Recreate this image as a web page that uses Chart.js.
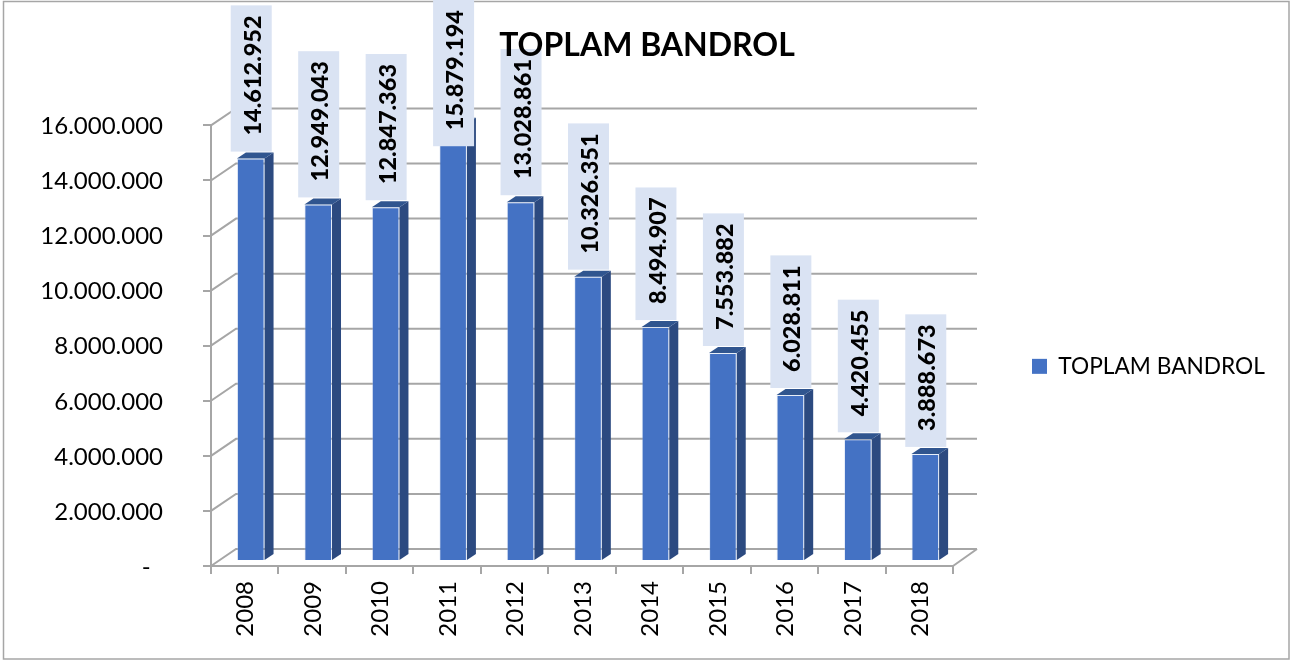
<!DOCTYPE html>
<html><head><meta charset="utf-8">
<style>html,body{margin:0;padding:0;background:#fff}canvas{display:block}</style>
<script src="https://cdn.jsdelivr.net/npm/chart.js@4"></script>
</head><body>
<canvas id="c" width="1302" height="661"></canvas>
<script>
const categories = ['2008','2009','2010','2011','2012','2013','2014','2015','2016','2017','2018'];
const seriesName = 'TOPLAM BANDROL';
const values = [14612952,12949043,12847363,15879194,13028861,10326351,8494907,7553882,6028811,4420455,3888673];
const FONT = 'Lato';
const fmt = v => v === 0 ? '-' : String(v).replace(/\B(?=(\d{3})+$)/g,'.');

const threeD = {
  id:'threeD',
  beforeLayout(chart){
    const t = chart.titleBlock;
    t._layers = () => [{z:5, draw:()=>t.draw()}];
  },
  afterLayout(chart){
    const t = chart.titleBlock; t.left = 147; t.right = 1147; t.top = 26; t.bottom = 68;
    const l = chart.legend; l.left = 1022; l.top = 345; l.right = 1300; l.bottom = 380;
  },
  beforeDraw(chart){
    const c = chart.ctx;
    c.save(); c.strokeStyle = '#a6a6a6'; c.lineWidth = 1.5;
    c.strokeRect(3.5,1.5,1285.5,657.5); c.restore();
  },
  beforeDatasetsDraw(chart){
    const c = chart.ctx, y = chart.scales.y, a = chart.chartArea;
    const dx = 25, dy = -17;
    c.save(); c.strokeStyle = '#a6a6a6'; c.lineWidth = 2; c.lineJoin='miter';
    y.ticks.forEach(t => {
      const p = y.getPixelForValue(t.value);
      c.beginPath(); c.moveTo(a.left,p); c.lineTo(a.left+dx,p+dy); c.lineTo(a.right+dx-1,p+dy); c.stroke();
    });
    const b = y.getPixelForValue(0);
    c.beginPath(); c.moveTo(a.right,b); c.lineTo(a.right+dx-1,b+dy); c.stroke();
    c.restore();
    c.save(); c.translate(6,-5);
    const dpx = 9, dpy = -6;
    chart.getDatasetMeta(0).data.forEach(el => {
      const r = el.x + el.width/2, l = el.x - el.width/2;
      c.fillStyle = '#2c4a80';
      c.beginPath(); c.moveTo(r,el.y); c.lineTo(r+dpx,el.y+dpy); c.lineTo(r+dpx,el.base+dpy); c.lineTo(r,el.base); c.closePath(); c.fill();
      c.fillStyle = '#30558f';
      c.beginPath(); c.moveTo(l,el.y); c.lineTo(l+dpx,el.y+dpy); c.lineTo(r+dpx,el.y+dpy); c.lineTo(r,el.y); c.closePath(); c.fill();
    });
  },
  afterDatasetsDraw(chart){
    const c = chart.ctx;
    c.restore();
    c.save();
    c.font = '900 23.5px '+FONT;
    chart.getDatasetMeta(0).data.forEach((el,i) => {
      const s = fmt(values[i]), w = c.measureText(s).width;
      const h = w + 26;
      let bottom = el.y - 5 - 7;
      let top = bottom - h;
      if (top < 0) { top = 0; bottom = h; }
      const cx = el.x + 6 + 0.5;
      c.fillStyle = '#dae3f3';
      c.fillRect(cx-20.5, top, 41, h);
      c.save();
      c.translate(cx+2, bottom-16);
      c.rotate(-Math.PI/2);
      c.fillStyle = '#000'; c.textAlign='left'; c.textBaseline='middle';
      c.fillText(s,0,0);
      c.restore();
    });
    c.restore();
  }
};

new Chart(document.getElementById('c'),{
  type:'bar',
  data:{labels:categories,datasets:[{label:seriesName,data:values,backgroundColor:'#4472c4',
    borderColor:'rgba(190,207,236,0.35)',borderWidth:1,categoryPercentage:1,barPercentage:0.41}]},
  plugins:[threeD],
  options:{
    responsive:false,animation:false,
    layout:{padding:{top:0,right:349,bottom:0,left:0}},
    plugins:{
      tooltip:{enabled:false},
      title:{display:true,text:seriesName,color:'#000',align:'center',
        font:{family:FONT,size:32,weight:'bold',lineHeight:1.2},padding:{top:0,bottom:87}},
      legend:{display:true,position:'chartArea',align:'start',
        labels:{color:'#000',font:{family:FONT,size:22.7},boxWidth:15,boxHeight:15,padding:10,
          generateLabels(ch){return Chart.defaults.plugins.legend.labels.generateLabels(ch).map(i=>Object.assign(i,{lineWidth:0}));}}}
    },
    scales:{
      x:{offset:true,
        afterFit(s){s.height=95;},
        grid:{offset:true,drawOnChartArea:false,drawTicks:true,tickLength:8,color:'#a6a6a6',lineWidth:2},
        border:{display:true,color:'#a6a6a6',width:2},
        ticks:{color:'#000',font:{family:FONT,size:24},minRotation:90,maxRotation:90,padding:7,labelOffset:1,autoSkip:false}},
      y:{min:0,max:16000000,
        afterFit(s){s.width=211;},
        grid:{drawOnChartArea:false,drawTicks:true,tickLength:8,color:'#a6a6a6',lineWidth:2},
        border:{display:true,color:'#a6a6a6',width:2},
        ticks:{color:'#000',font:{family:FONT,size:24},stepSize:2000000,padding:40,labelOffset:1,callback:v=>v===0?'-  ':fmt(v)}}
    }
  }
});
</script>
</body></html>
